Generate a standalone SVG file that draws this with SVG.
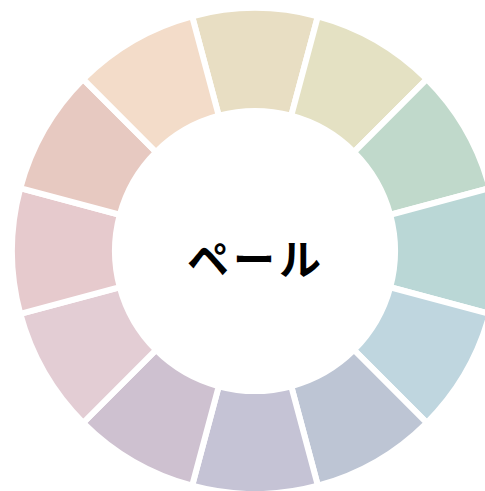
<svg xmlns="http://www.w3.org/2000/svg" xmlns:xlink="http://www.w3.org/1999/xlink" width="485" height="491" viewBox="0 0 485 491">
<style>
.seg{stroke:#fff;stroke-width:6;stroke-linejoin:miter}
.label{font-family:"Noto Sans CJK JP","Noto Sans",sans-serif;font-weight:700;font-size:42px;letter-spacing:4px;fill:#000}
</style>
<defs>
<path id="seg" d="M -62.893 -234.72 A 243 243 0 0 1 62.893 -234.72 L 36.235 -135.23 A 140 140 0 0 0 -36.235 -135.23 Z"/>
</defs>
<rect width="485" height="491" fill="#fff"/>
<g id="wheel" transform="translate(255,251)">
<g id="s0"><use xlink:href="#seg" href="#seg" class="seg" fill="#E8DEC3"/></g>
<g id="s1"><use xlink:href="#seg" href="#seg" class="seg" fill="#E4E1C3" transform="rotate(30)"/></g>
<g id="s2"><use xlink:href="#seg" href="#seg" class="seg" fill="#C0D9CB" transform="rotate(60)"/></g>
<g id="s3"><use xlink:href="#seg" href="#seg" class="seg" fill="#BAD7D6" transform="rotate(90)"/></g>
<g id="s4"><use xlink:href="#seg" href="#seg" class="seg" fill="#BFD6DF" transform="rotate(120)"/></g>
<g id="s5"><use xlink:href="#seg" href="#seg" class="seg" fill="#BDC5D4" transform="rotate(150)"/></g>
<g id="s6"><use xlink:href="#seg" href="#seg" class="seg" fill="#C5C3D5" transform="rotate(180)"/></g>
<g id="s7"><use xlink:href="#seg" href="#seg" class="seg" fill="#CEC1D0" transform="rotate(210)"/></g>
<g id="s8"><use xlink:href="#seg" href="#seg" class="seg" fill="#E3CDD4" transform="rotate(240)"/></g>
<g id="s9"><use xlink:href="#seg" href="#seg" class="seg" fill="#E6CACD" transform="rotate(270)"/></g>
<g id="s10"><use xlink:href="#seg" href="#seg" class="seg" fill="#E7C9C1" transform="rotate(300)"/></g>
<g id="s11"><use xlink:href="#seg" href="#seg" class="seg" fill="#F3DCC9" transform="rotate(330)"/></g>
</g>
<g id="center-label"><text class="label" x="256" y="275" text-anchor="middle">ペール</text></g>
</svg>
